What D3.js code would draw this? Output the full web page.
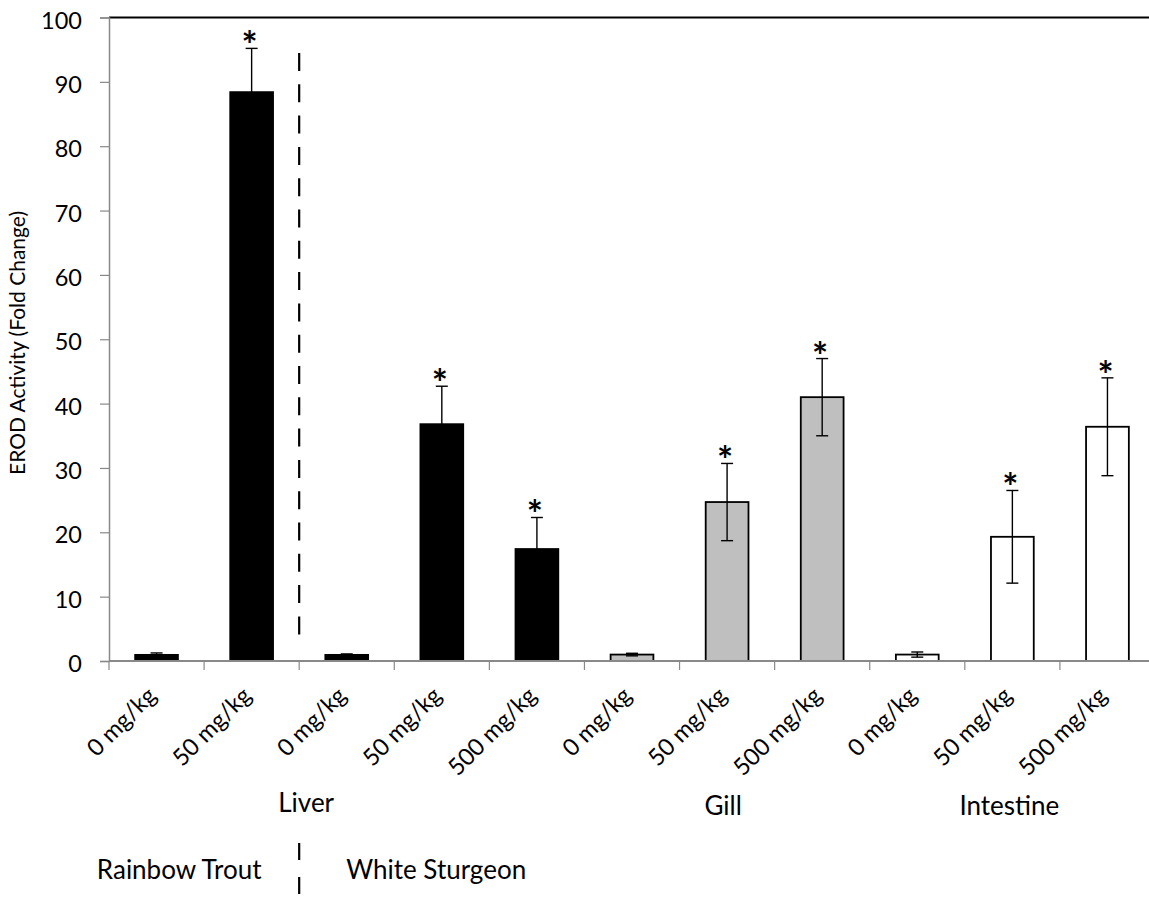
<!DOCTYPE html>
<html><head><meta charset="utf-8">
<script src="https://cdn.jsdelivr.net/npm/d3@7"></script>
<style>body{margin:0;background:#fff;} text{font-family:Lato,"Open Sans",sans-serif;fill:#000;}</style>
</head><body>
<svg id="c" width="1149" height="898"></svg>
<script>
const categories = ["0 mg/kg","50 mg/kg","0 mg/kg","50 mg/kg","500 mg/kg","0 mg/kg","50 mg/kg","500 mg/kg","0 mg/kg","50 mg/kg","500 mg/kg"];
const tissues = ["Liver","Liver","Liver","Liver","Liver","Gill","Gill","Gill","Intestine","Intestine","Intestine"];
const values = [0.95, 88.4, 0.95, 36.8, 17.4, 1.0, 24.7, 41.0, 1.0, 19.3, 36.4];
const errors = [0.3, 6.8, 0.15, 5.9, 4.9, 0.2, 6.0, 6.0, 0.4, 7.2, 7.6];
const significant = [false, true, false, true, true, false, true, true, false, true, true];
const yTicks = [0,10,20,30,40,50,60,70,80,90,100];
const fills = {Liver:"#000000", Gill:"#bfbfbf", Intestine:"#ffffff"};

const svg = d3.select("#c");
const mLeft = 109, mRight = 1155, mTop = 17.5, mBottom = 661;
const idx = categories.map((d,i)=>i);
const x = d3.scaleBand().domain(idx).range([mLeft,mRight]).paddingInner(0.55).paddingOuter(0.275);
const xb = d3.scaleBand().domain(idx).range([mLeft,mRight]);
const y = d3.scaleLinear().domain([0,100]).range([mBottom,mTop]);

// top border
svg.append("line").attr("x1",mLeft).attr("x2",1149).attr("y1",y(100)).attr("y2",y(100)).attr("stroke","#000").attr("stroke-width",2);

// y axis
const ya = svg.append("g").attr("transform",`translate(${mLeft},0)`).call(d3.axisLeft(y).tickValues(yTicks).tickSize(9).tickPadding(18));
ya.select(".domain").attr("stroke","#898989").attr("stroke-width",1.5);
ya.selectAll(".tick line").attr("stroke","#898989").attr("stroke-width",1.2);
ya.selectAll("text").style("font-size","23.5px").style("font-family","Lato").attr("dy","0.45em");

// bars
svg.selectAll("rect.bar").data(idx).enter().append("rect")
  .attr("x",i=>x(i)).attr("width",x.bandwidth())
  .attr("y",i=>y(values[i])).attr("height",i=>y(0)-y(values[i]))
  .attr("fill",i=>fills[tissues[i]]).attr("stroke","#000").attr("stroke-width",1.8);

// x axis
const xa = svg.append("g").attr("transform",`translate(0,${mBottom})`);
xa.append("line").attr("x1",mLeft).attr("x2",mRight).attr("y1",0).attr("y2",0).attr("stroke","#898989").attr("stroke-width",2);
xa.selectAll("line.t").data(d3.range(0,categories.length+1)).enter().append("line")
  .attr("x1",i=>mLeft+i*xb.bandwidth()).attr("x2",i=>mLeft+i*xb.bandwidth())
  .attr("y1",0).attr("y2",9).attr("stroke","#898989").attr("stroke-width",1.2);
xa.selectAll("text.lab").data(idx).enter().append("text")
  .attr("transform",i=>`translate(${xb(i)+xb.bandwidth()/2+1},${36}) rotate(-45)`)
  .attr("text-anchor","end").style("font-size","23.5px").text(i=>categories[i]);

// error bars
const cap = 6;
const eb = svg.selectAll("g.eb").data(idx).enter().append("g").attr("stroke","#000").attr("stroke-width",1.4);
eb.append("line").attr("x1",i=>x(i)+x.bandwidth()/2).attr("x2",i=>x(i)+x.bandwidth()/2)
  .attr("y1",i=>y(values[i]-errors[i])).attr("y2",i=>y(values[i]+errors[i]));
eb.append("line").attr("x1",i=>x(i)+x.bandwidth()/2-cap).attr("x2",i=>x(i)+x.bandwidth()/2+cap)
  .attr("y1",i=>y(values[i]+errors[i])).attr("y2",i=>y(values[i]+errors[i]));
eb.append("line").attr("x1",i=>x(i)+x.bandwidth()/2-cap).attr("x2",i=>x(i)+x.bandwidth()/2+cap)
  .attr("y1",i=>y(values[i]-errors[i])).attr("y2",i=>y(values[i]-errors[i]));

// significance
svg.selectAll("text.sig").data(idx.filter(i=>significant[i])).enter().append("text")
  .attr("x",i=>x(i)+x.bandwidth()/2-2).attr("y",i=>y(values[i]+errors[i])+11)
  .attr("text-anchor","middle").style("font-size","38px").style("font-weight","bold").text("*");

// dashed separator
const sepX = mLeft + 2*xb.bandwidth();
svg.append("line").attr("x1",sepX).attr("x2",sepX).attr("y1",53).attr("y2",645)
  .attr("stroke","#000").attr("stroke-width",2.2).attr("stroke-dasharray","18,13.3");
svg.append("line").attr("x1",sepX).attr("x2",sepX).attr("y1",843).attr("y2",898)
  .attr("stroke","#000").attr("stroke-width",2.2).attr("stroke-dasharray","17,17");

// group labels
const gs = "26px";
svg.append("text").attr("x",sepX+7).attr("y",812).attr("text-anchor","middle").style("font-size",gs).text("Liver");
svg.append("text").attr("x",xb(6)+xb.bandwidth()/2-4).attr("y",815).attr("text-anchor","middle").style("font-size",gs).text("Gill");
svg.append("text").attr("x",xb(9)+xb.bandwidth()/2-3).attr("y",815).attr("text-anchor","middle").style("font-size",gs).text("Intestine");
svg.append("text").attr("x",sepX-120).attr("y",879).attr("text-anchor","middle").style("font-size",gs).text("Rainbow Trout");
svg.append("text").attr("x",sepX+137).attr("y",879).attr("text-anchor","middle").style("font-size",gs).text("White Sturgeon");

// y title
svg.append("text").attr("transform",`translate(25,${343}) rotate(-90)`).attr("text-anchor","middle")
  .style("font-size","21px").text("EROD Activity (Fold Change)");
</script></body></html>
